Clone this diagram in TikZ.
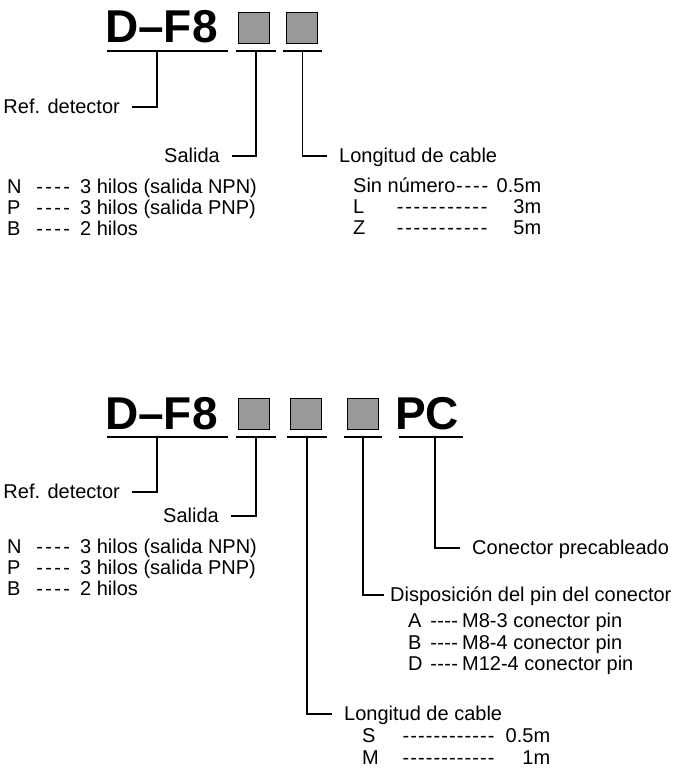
\documentclass[tikz,border=0pt]{standalone}
\usepackage{fontspec}
\setmainfont{Liberation Sans}
\usepackage{xcolor}
\usetikzlibrary{positioning}
\definecolor{cellgray}{gray}{0.6}
\newcommand{\dashrun}[2][8pt]{\cleaders\hbox to #1{\hss-\hss}\hskip #2\relax}

\begin{document}
\begin{tikzpicture}[x=1pt,y=-1pt,node distance=0pt]
    \tikzstyle{code}=[font=\fontsize{46}{50}\selectfont\bfseries, inner sep=0, anchor=base west]
    \tikzstyle{cell}=[shape=rectangle, draw, line width=0.8pt, fill=cellgray, minimum size=31pt, inner sep=0]
    \tikzstyle{bar}=[shape=rectangle, fill=black, minimum height=1.6pt, inner sep=0]
    \tikzstyle{lab}=[font=\fontsize{20}{22}\selectfont, inner sep=0, text height=17pt, text depth=3.5pt]
    \tikzstyle{row}=[lab, anchor=west]
    \tikzstyle{elbow}=[to path={|- (\tikztotarget)}]
    \tikzstyle{lead}=[draw, line width=1.1pt, shorten >=12pt]

    \useasboundingbox (0,0) rectangle (674,768);

    % upper code
    \node[code] (title1) at (105,43) {D–F8};
    \node[cell] (c1) at (254,27.5) {};
    \node[cell] (c2) at (302,27.5) {};
    \node[bar, minimum width=121pt] (bar0) at (167.5,51) {};
    \node[bar, minimum width=40pt] (bar1) at (256,51) {};
    \node[bar, minimum width=39pt] (bar2) at (302.5,51) {};

    \node[lab, anchor=east] (ref1) at (120,107) {Ref. detector};
    \node[lab, anchor=east] (sal1) at (220,156) {Salida};
    \node[lab, anchor=west] (lon1) at (339,156) {Longitud de cable};

    \node[row] (outN1) at (7,187) {\makebox[28pt][l]{N}\dashrun[9pt]{36pt}\hspace{9pt}3 hilos (salida NPN)};
    \node[row, below=0pt of outN1.south west, anchor=north west] (outP1) {\makebox[28pt][l]{P}\dashrun[9pt]{36pt}\hspace{9pt}3 hilos (salida PNP)};
    \node[row, below=0pt of outP1.south west, anchor=north west] (outB1) {\makebox[28pt][l]{B}\dashrun[9pt]{36pt}\hspace{9pt}2 hilos};

    \node[row, below=8.5pt of lon1.south west, xshift=14pt, anchor=north west] (lenNone) {\makebox[102pt][l]{Sin número}\dashrun[8.5pt]{34pt}\makebox[52pt][r]{0.5m}};
    \node[row, below=0.5pt of lenNone.south west, anchor=north west] (lenL) {\makebox[42pt][l]{L}\dashrun[8.4pt]{94pt}\makebox[52pt][r]{3m}};
    \node[row, below=0.5pt of lenL.south west, anchor=north west] (lenZ) {\makebox[42pt][l]{Z}\dashrun[8.4pt]{94pt}\makebox[52pt][r]{5m}};

    % lower code
    \node[code] (title2) at (105,429) {D–F8};
    \node[cell] (c3) at (254,413.5) {};
    \node[cell] (c4) at (306,413.5) {};
    \node[cell] (c5) at (362.5,413.5) {};
    \node[code] (pc) at (395,429) {PC};
    \node[bar, minimum width=121pt] (bar3) at (167.5,437) {};
    \node[bar, minimum width=40pt] (bar4) at (256,437) {};
    \node[bar, minimum width=40pt] (bar5) at (307,437) {};
    \node[bar, minimum width=38pt] (bar6) at (363,437) {};
    \node[bar, minimum width=64pt] (bar7) at (431,437) {};

    \node[lab, anchor=east] (ref2) at (120,492) {Ref. detector};
    \node[lab, anchor=east] (sal2) at (219,516) {Salida};
    \node[lab, anchor=west] (pcl) at (472,548) {Conector precableado};
    \node[lab, anchor=west] (dis) at (390,595) {Disposición del pin del conector};
    \node[lab, anchor=west] (lon2) at (344,714) {Longitud de cable};

    \node[row] (outN2) at (7,547) {\makebox[28pt][l]{N}\dashrun[9pt]{36pt}\hspace{9pt}3 hilos (salida NPN)};
    \node[row, below=0pt of outN2.south west, anchor=north west] (outP2) {\makebox[28pt][l]{P}\dashrun[9pt]{36pt}\hspace{9pt}3 hilos (salida PNP)};
    \node[row, below=0pt of outP2.south west, anchor=north west] (outB2) {\makebox[28pt][l]{B}\dashrun[9pt]{36pt}\hspace{9pt}2 hilos};

    \node[row, below=4.5pt of dis.south west, xshift=18pt, anchor=north west] (pinA) {\makebox[22pt][l]{A}\dashrun[7pt]{28pt}\hspace{4pt}M8-3 conector pin};
    \node[row, below=1pt of pinA.south west, anchor=north west] (pinB) {\makebox[22pt][l]{B}\dashrun[7pt]{28pt}\hspace{4pt}M8-4 conector pin};
    \node[row, below=1pt of pinB.south west, anchor=north west] (pinD) {\makebox[22pt][l]{D}\dashrun[7pt]{28pt}\hspace{4pt}M12-4 conector pin};

    \node[row, below=0.5pt of lon2.south west, xshift=18pt, anchor=north west] (lenS) {\makebox[40pt][l]{S}\dashrun[7.75pt]{93pt}\makebox[55pt][r]{0.5m}};
    \node[row, below=1.5pt of lenS.south west, anchor=north west] (lenM) {\makebox[40pt][l]{M}\dashrun[7.75pt]{93pt}\makebox[55pt][r]{1m}};

    \path[lead]
    ([xshift=-10.5pt]bar0.center) edge[elbow] (ref1.east)
    (bar1.center) edge[elbow] (sal1.east)
    (bar2.center) edge[elbow] (lon1.west)

    ([xshift=-10.5pt]bar3.center) edge[elbow] (ref2.east)
    (bar4.center) edge[elbow] (sal2.east)
    (bar5.center) edge[elbow] (lon2.west)
    (bar6.center) edge[elbow, shorten >=6pt] (dis.west)
    ([xshift=4pt]bar7.center) edge[elbow] (pcl.west)
    ;

\end{tikzpicture}
\end{document}
